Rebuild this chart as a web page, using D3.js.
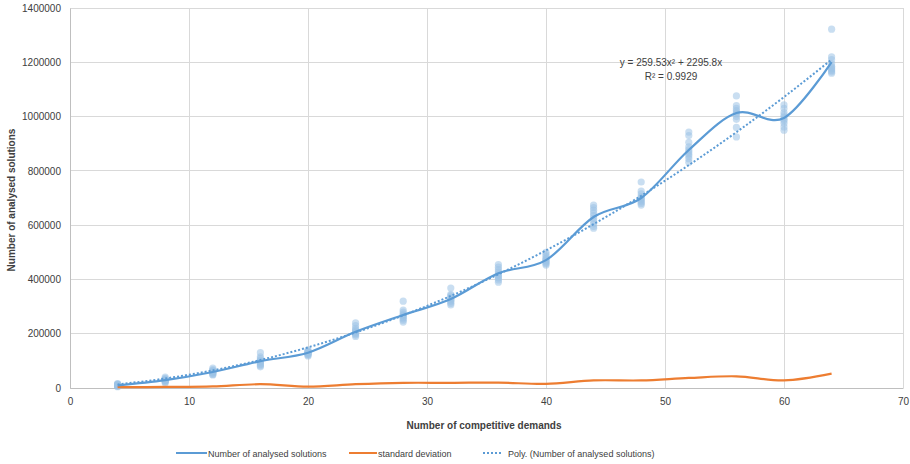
<!DOCTYPE html>
<html><head><meta charset="utf-8">
<script src="https://cdn.jsdelivr.net/npm/d3@7/dist/d3.min.js"></script>
<style>
body{margin:0;background:#fff;}
text{font-family:"Liberation Sans",Arial,sans-serif;fill:#404040;}
</style></head>
<body><svg id="c" width="910" height="464"></svg>
<script>
// ---- data ----
const demands = [4,8,12,16,20,24,28,32,36,40,44,48,52,56,60,64];
const runs = [
 [5000,7000,8000,9000,10000,11000,12000,13000,14000,16000],
 [18000,22000,25000,27000,28000,29000,31000,33000,36000,40000],
 [48000,50000,53000,56000,58000,60000,62000,64000,68000,73000],
 [78000,82000,87000,90000,95000,98000,102000,108000,115000,130000],
 [118000,121000,124000,126000,128000,130000,132000,134000,137000,140000],
 [190000,195000,200000,203000,206000,210000,214000,220000,230000,240000],
 [243000,250000,255000,260000,265000,268000,272000,280000,287000,320000],
 [306000,312000,318000,322000,326000,330000,335000,340000,345000,368000],
 [390000,398000,405000,410000,415000,420000,428000,436000,445000,455000],
 [453000,458000,462000,466000,470000,474000,478000,485000,492000,500000],
 [589000,595000,605000,615000,625000,635000,645000,655000,665000,674000],
 [674000,680000,685000,690000,695000,700000,705000,715000,725000,759000],
 [832000,845000,855000,862000,870000,878000,888000,905000,930000,943000],
 [925000,960000,990000,1000000,1010000,1015000,1022000,1030000,1040000,1076000],
 [950000,962000,975000,985000,990000,998000,1005000,1015000,1030000,1043000],
 [1160000,1165000,1170000,1175000,1180000,1185000,1195000,1210000,1220000,1322000]
];
const meanSolutions = [10000,29000,59000,99000,130000,207000,269000,328000,423000,471000,630000,700000,877000,1013000,995000,1201000];
const stdDev = [3000,4000,6000,14000,5000,14000,19000,19000,20000,15000,28000,28000,37000,43000,28000,53000];
const polyCoef = {a:259.53, b:2295.8};
const xTicks = [0,10,20,30,40,50,60,70];
const yTicks = [0,200000,400000,600000,800000,1000000,1200000,1400000];
const eqLines = ["y = 259.53x² + 2295.8x","R² = 0.9929"];
const legendLabels = ["Number of analysed solutions","standard deviation","Poly. (Number of analysed solutions)"];

// ---- layout ----
const svg = d3.select("#c");
const L=70,R=903,T=8,B=388;
const x = d3.scaleLinear().domain([0,70]).range([L,R]);
const y = d3.scaleLinear().domain([0,1400000]).range([B,T]);
const blue="#5b9bd5", orange="#ed7d31", grid="#d9d9d9";

// grid
svg.append("g").selectAll("line").data(yTicks).join("line")
 .attr("x1",L).attr("x2",R).attr("y1",d=>y(d)).attr("y2",d=>y(d))
 .attr("stroke",grid).attr("stroke-width",1).attr("shape-rendering","crispEdges");
svg.append("g").selectAll("line").data(xTicks).join("line")
 .attr("y1",T).attr("y2",B).attr("x1",d=>x(d)).attr("x2",d=>x(d))
 .attr("stroke",grid).attr("stroke-width",1).attr("shape-rendering","crispEdges");

// axes
const gx = svg.append("g").attr("transform",`translate(0,${B})`)
 .call(d3.axisBottom(x).tickValues(xTicks).tickSize(0).tickPadding(10));
const gy = svg.append("g").attr("transform",`translate(${L},0)`)
 .call(d3.axisLeft(y).tickValues(yTicks).tickSize(0).tickPadding(9).tickFormat(d3.format("d")));
[gx,gy].forEach(g=>{g.select(".domain").attr("stroke","#bfbfbf");
 g.selectAll("text").attr("font-size",10).attr("fill","#595959").attr("font-family","Liberation Sans, Arial, sans-serif");});

// scatter
const pts=[];
demands.forEach((d,i)=>runs[i].forEach(v=>pts.push([d,v])));
svg.append("g").selectAll("circle").data(pts).join("circle")
 .attr("cx",d=>x(d[0])).attr("cy",d=>y(d[1])).attr("r",3.6)
 .attr("fill","#9dc3e6").attr("fill-opacity",0.55);

// trend
const trend = demands.map(d=>[d, polyCoef.a*d*d+polyCoef.b*d]);
svg.append("path").datum(trend)
 .attr("d",d3.line().x(d=>x(d[0])).y(d=>y(d[1])).curve(d3.curveMonotoneX))
 .attr("fill","none").attr("stroke",blue).attr("stroke-width",2).attr("stroke-dasharray","2 2");

const sm = d3.line().x(d=>x(d[0])).y(d=>y(d[1])).curve(d3.curveCardinal.tension(0));
svg.append("path").datum(demands.map((d,i)=>[d,stdDev[i]]))
 .attr("d",sm).attr("fill","none").attr("stroke",orange).attr("stroke-width",2.2);
svg.append("path").datum(demands.map((d,i)=>[d,meanSolutions[i]]))
 .attr("d",sm).attr("fill","none").attr("stroke",blue).attr("stroke-width",2.2);

// equation
svg.append("text").attr("x",671).attr("y",66).attr("text-anchor","middle").attr("font-size",10).attr("fill","#262626").text(eqLines[0]);
svg.append("text").attr("x",671).attr("y",80).attr("text-anchor","middle").attr("font-size",10).attr("fill","#262626").text(eqLines[1]);

// titles
svg.append("text").attr("x",484).attr("y",429).attr("text-anchor","middle").attr("font-size",10).attr("font-weight","bold").attr("fill","#262626").text("Number of competitive demands");
svg.append("text").attr("transform","translate(15,200) rotate(-90)").attr("text-anchor","middle").attr("font-size",10).attr("font-weight","bold").attr("fill","#262626").text("Number of analysed solutions");

// legend
const leg=[{x1:176,x2:207,c:blue,dash:null,tx:208},{x1:349,x2:377,c:orange,dash:null,tx:378},{x1:483,x2:503,c:blue,dash:"2 2",tx:508}];
leg.forEach((l,i)=>{
 svg.append("line").attr("x1",l.x1).attr("x2",l.x2).attr("y1",453).attr("y2",453).attr("stroke",l.c).attr("stroke-width",2).attr("stroke-dasharray",l.dash);
 svg.append("text").attr("x",l.tx).attr("y",456.5).attr("font-size",9).attr("fill","#595959").text(legendLabels[i]);
});
</script></body></html>
